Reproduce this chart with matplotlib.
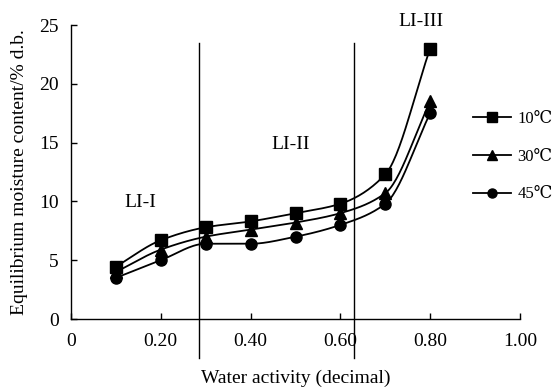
import numpy as np
import matplotlib
matplotlib.use("Agg")
import matplotlib.pyplot as plt
from matplotlib.lines import Line2D

water_activity = [0.1, 0.2, 0.3, 0.4, 0.5, 0.6, 0.7, 0.8]
emc_10 = [4.45, 6.7, 7.8, 8.3, 9.0, 9.8, 12.3, 23.0]
emc_30 = [4.0, 5.9, 7.0, 7.6, 8.2, 9.0, 10.7, 18.5]
emc_45 = [3.5, 5.0, 6.4, 6.4, 7.0, 8.0, 9.8, 17.5]
series_labels = ["10℃", "30℃", "45℃"]
boundaries = [0.286, 0.630]
region_labels = ["LI-I", "LI-II", "LI-III"]
xticks = [0, 0.2, 0.4, 0.6, 0.8, 1.0]
xticklabels = ["0", "0.20", "0.40", "0.60", "0.80", "1.00"]
yticks = [0, 5, 10, 15, 20, 25]

FONT = ["Liberation Serif", "DejaVu Serif"]
plt.rcParams["font.family"] = FONT
FS = 14


def smooth(x, y, n=30):
    # monotone cubic Hermite smoothing through the data points (rendering only)
    x = np.asarray(x, float); y = np.asarray(y, float)
    h = np.diff(x); d = np.diff(y) / h
    m = np.zeros_like(y)
    for i in range(1, len(x) - 1):
        if d[i - 1] * d[i] <= 0:
            m[i] = 0.0
        else:
            m[i] = 2.0 / (1.0 / d[i - 1] + 1.0 / d[i])
    m[0] = d[0]; m[-1] = d[-1]
    xs, ys = [], []
    t = np.linspace(0, 1, n)
    for i in range(len(x) - 1):
        h00 = 2 * t**3 - 3 * t**2 + 1
        h10 = t**3 - 2 * t**2 + t
        h01 = -2 * t**3 + 3 * t**2
        h11 = t**3 - t**2
        xs.append(x[i] + t * h[i])
        ys.append(h00 * y[i] + h10 * h[i] * m[i] + h01 * y[i + 1] + h11 * h[i] * m[i + 1])
    return np.concatenate(xs), np.concatenate(ys)


fig = plt.figure(figsize=(5.56, 3.92), dpi=100)
ax = fig.add_axes([71 / 556, 73 / 392, 449 / 556, 294 / 392])

markers = ["s", "^", "o"]
handles = []
for data, m, lab in zip([emc_10, emc_30, emc_45], markers, series_labels):
    sx, sy = smooth(water_activity, data)
    ax.plot(sx, sy, color="black", lw=1.3)
    ax.plot(water_activity, data, linestyle="none", marker=m, color="black", markersize=8)
    handles.append(Line2D([], [], color="black", lw=1.3, marker=m, markersize=6.5, label=lab))

for b in boundaries:
    ax.plot([b, b], [-3.3, 23.5], color="black", lw=1.0, clip_on=False)

ax.text(0.155, 9.9, region_labels[0], ha="center", va="center", fontsize=FS)
ax.text(0.49, 14.8, region_labels[1], ha="center", va="center", fontsize=FS)
ax.text(0.78, 25.3, region_labels[2], ha="center", va="center", fontsize=FS)

ax.set_xlim(0, 1.0)
ax.set_ylim(0, 25)
ax.set_xticks(xticks)
ax.set_xticklabels(xticklabels)
ax.set_yticks(yticks)
ax.tick_params(direction="in", length=4, width=1, labelsize=FS)
ax.tick_params(axis="x", pad=10)
ax.tick_params(axis="y", pad=9)
for s in ["top", "right"]:
    ax.spines[s].set_visible(False)
for s in ["left", "bottom"]:
    ax.spines[s].set_linewidth(1.0)

ax.set_xlabel("Water activity (decimal)", fontsize=FS, labelpad=14)
ax.set_ylabel("Equilibrium moisture content/% d.b.", fontsize=FS, labelpad=8)

LFS = 12
fig.legend(handles=handles, loc="center left", bbox_to_anchor=(0.851, 0.60),
           frameon=False, fontsize=LFS, handlelength=2.3, labelspacing=1.3,
           handletextpad=0.35, borderaxespad=0, borderpad=0)

fig.savefig("out.png", dpi=100)
